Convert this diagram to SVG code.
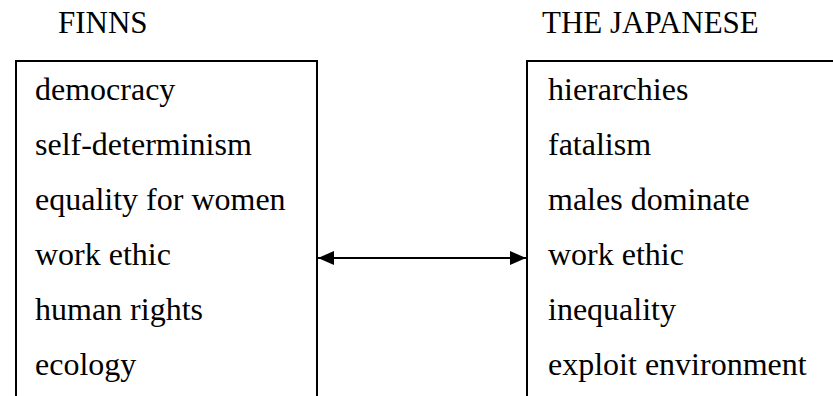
<svg xmlns="http://www.w3.org/2000/svg" width="833" height="396" viewBox="0 0 833 396">
<style>
.t{font-family:"Liberation Serif","Times New Roman",serif;font-size:32px;fill:#000}
.h{font-family:"Liberation Serif","Times New Roman",serif;font-size:31px;fill:#000}
.box{fill:none;stroke:#000;stroke-width:2}
.conn{stroke:#000;stroke-width:2;fill:none}
</style>
<defs>
<marker id="ah" viewBox="0 0 16 14" refX="16" refY="7" markerWidth="16" markerHeight="14" markerUnits="userSpaceOnUse" orient="auto-start-reverse">
<path d="M0,0 L16,7 L0,14 Z" fill="#000"/>
</marker>
</defs>
<rect width="833" height="396" fill="#fff"/>
<text class="h" x="58" y="33">FINNS</text>
<text class="h" x="542" y="33">THE JAPANESE</text>
<g id="finns">
<rect class="box" x="16" y="61" width="301" height="360"/>
<text class="t" x="35" y="100">democracy</text>
<text class="t" x="35" y="155">self-determinism</text>
<text class="t" x="35" y="210">equality for women</text>
<text class="t" x="35" y="265">work ethic</text>
<text class="t" x="35" y="320">human rights</text>
<text class="t" x="35" y="375">ecology</text>
</g>
<g id="japanese">
<rect class="box" x="527" y="61" width="330" height="360"/>
<text class="t" x="548" y="100">hierarchies</text>
<text class="t" x="548" y="155">fatalism</text>
<text class="t" x="548" y="210">males dominate</text>
<text class="t" x="548" y="265">work ethic</text>
<text class="t" x="548" y="320">inequality</text>
<text class="t" x="548" y="375">exploit environment</text>
</g>
<g id="connectors">
<line class="conn" x1="318" y1="258" x2="526" y2="258" marker-start="url(#ah)" marker-end="url(#ah)"/>
</g>
</svg>
